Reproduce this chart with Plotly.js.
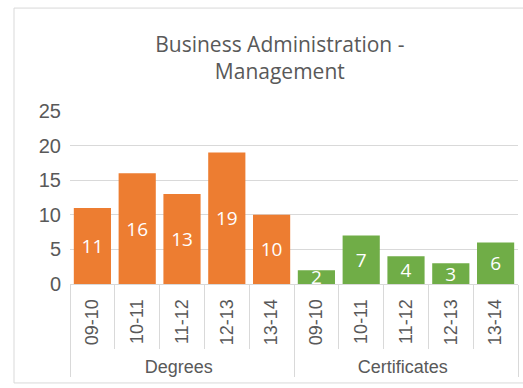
<!DOCTYPE html>
<html>
<head>
<meta charset="utf-8">
<script src="https://cdn.plot.ly/plotly-3.0.1.min.js"></script>
<style>
  html, body { margin: 0; padding: 0; background: #fff; }
  #plot { width: 523px; height: 388px; }
</style>
</head>
<body>
<div id="plot"></div>
<script>
var years = ['09-10', '10-11', '11-12', '12-13', '13-14'];
var degrees = [11, 16, 13, 19, 10];
var certificates = [2, 7, 4, 3, 6];

function groupOf(name) {
  return years.map(function () { return name; });
}

function barTrace(group, values, color) {
  return {
    x: [groupOf(group), years],
    y: values,
    name: group,
    type: 'bar',
    text: values.map(String),
    textposition: 'inside',
    insidetextanchor: 'middle',
    textangle: 0,
    constraintext: 'none',
    textfont: {family: 'Open Sans', size: 19, color: '#ffffff'},
    marker: {color: color},
    hoverinfo: 'none'
  };
}

var data = [
  barTrace('Degrees', degrees, '#ED7D31'),
  barTrace('Certificates', certificates, '#70AD47')
];

var layout = {
  width: 523,
  height: 388,
  margin: {l: 70, r: 5, t: 111, b: 104},
  paper_bgcolor: '#ffffff',
  plot_bgcolor: '#ffffff',
  showlegend: false,
  barmode: 'overlay',
  bargap: 0.17,
  title: {
    text: 'Business Administration -<br>Management',
    font: {family: 'Open Sans', size: 21, color: '#595959'},
    x: 0.535,
    xanchor: 'center',
    y: 0.866,
    yanchor: 'middle'
  },
  font: {family: 'Liberation Sans', size: 18, color: '#595959'},
  xaxis: {
    type: 'multicategory',
    tickangle: -90,
    showline: true,
    linecolor: '#D9D9D9',
    ticks: 'outside',
    ticklen: 64,
    tickcolor: '#D9D9D9',
    showdividers: true,
    dividercolor: '#D9D9D9',
    dividerwidth: 1,
    ticklabelstandoff: 7,
    tickfont: {family: 'Liberation Sans', size: 18, color: '#595959'}
  },
  yaxis: {
    range: [0, 25],
    dtick: 5,
    showgrid: true,
    gridcolor: '#D9D9D9',
    zeroline: false,
    tickfont: {family: 'Liberation Sans', size: 20, color: '#595959'},
    ticklabelstandoff: 8
  },
  shapes: [{
    type: 'rect',
    xref: 'paper', yref: 'paper',
    x0: -0.125, x1: 1.05, y0: -0.572, y1: 1.595,
    line: {color: '#D9D9D9', width: 1}
  }]
};

Plotly.newPlot('plot', data, layout, {displayModeBar: false, staticPlot: true});
</script>
</body>
</html>
